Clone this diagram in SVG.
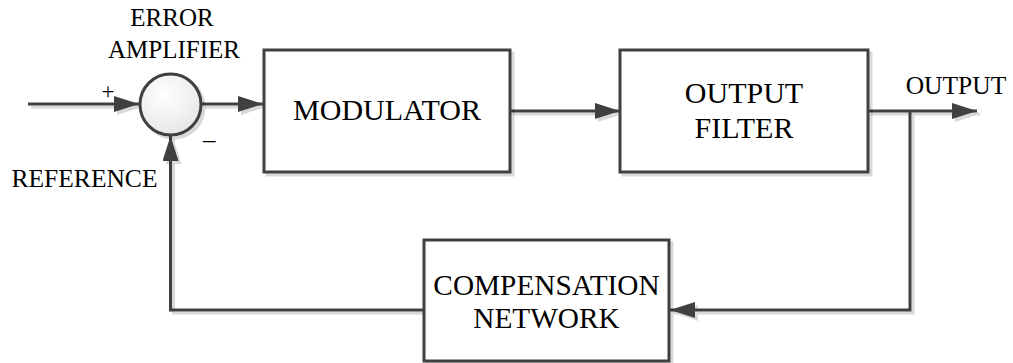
<svg xmlns="http://www.w3.org/2000/svg" width="1013" height="363" viewBox="0 0 1013 363">
  <style>
    .box { fill: #ffffff; stroke: #404040; stroke-width: 3; }
    .wire { fill: none; stroke: #404040; stroke-width: 3; }
    .lbl { font-family: "Liberation Serif", "Times New Roman", serif; fill: #000000; }
    .big { font-size: 30px; text-anchor: middle; }
    .small { font-size: 25px; text-anchor: middle; }
  </style>
  <defs>
    <filter id="shadow" x="-5%" y="-5%" width="115%" height="115%">
      <feDropShadow dx="3" dy="3" stdDeviation="0.6" flood-color="#000000" flood-opacity="0.15"/>
    </filter>
    <radialGradient id="sumfill" cx="0.4" cy="0.35" r="0.7">
      <stop offset="0" stop-color="#ffffff"/>
      <stop offset="1" stop-color="#e6e6e6"/>
    </radialGradient>
    <marker id="arrow" viewBox="0 0 25 16" refX="25" refY="8" markerWidth="25" markerHeight="16" markerUnits="userSpaceOnUse" orient="auto">
      <path d="M0,0 L25,8 L0,16 Z" fill="#404040"/>
    </marker>
  </defs>

  <g id="connectors" filter="url(#shadow)">
    <path class="wire" d="M28,104 L139,104" marker-end="url(#arrow)"/>
    <path class="wire" d="M202,104 L263,104" marker-end="url(#arrow)"/>
    <path class="wire" d="M510,111 L620,111" marker-end="url(#arrow)"/>
    <path class="wire" d="M868,111 L977,111" marker-end="url(#arrow)"/>
    <path class="wire" d="M910,111 L910,310 L670,310" marker-end="url(#arrow)"/>
    <path class="wire" d="M424,310 L170.5,310 L170.5,136" marker-end="url(#arrow)"/>
  </g>

  <g id="error-amplifier">
    <circle cx="170.5" cy="104.5" r="30.5" fill="url(#sumfill)" stroke="#404040" stroke-width="3" filter="url(#shadow)"/>
    <text class="lbl small" x="172" y="26">ERROR</text>
    <text class="lbl small" x="174" y="58">AMPLIFIER</text>
    <text class="lbl" x="108" y="99" font-size="23" text-anchor="middle">+</text>
    <text class="lbl" x="203" y="147.5" font-size="25">–</text>
  </g>

  <g id="reference">
    <text class="lbl" x="84.5" y="187" font-size="25.5" text-anchor="middle">REFERENCE</text>
  </g>

  <g id="modulator">
    <rect class="box" x="264" y="50" width="246" height="122" filter="url(#shadow)"/>
    <text class="lbl big" x="387" y="120">MODULATOR</text>
  </g>

  <g id="output-filter">
    <rect class="box" x="620" y="50" width="248" height="122" filter="url(#shadow)"/>
    <text class="lbl big" x="744" y="103">OUTPUT</text>
    <text class="lbl big" x="744" y="138">FILTER</text>
  </g>

  <g id="output">
    <text class="lbl" x="956" y="94" font-size="25.5" text-anchor="middle">OUTPUT</text>
  </g>

  <g id="compensation-network">
    <rect class="box" x="424" y="240" width="245" height="121" filter="url(#shadow)"/>
    <text class="lbl" x="546.5" y="295" font-size="29.3" text-anchor="middle">COMPENSATION</text>
    <text class="lbl" x="546.5" y="328" font-size="29.3" text-anchor="middle">NETWORK</text>
  </g>
</svg>
